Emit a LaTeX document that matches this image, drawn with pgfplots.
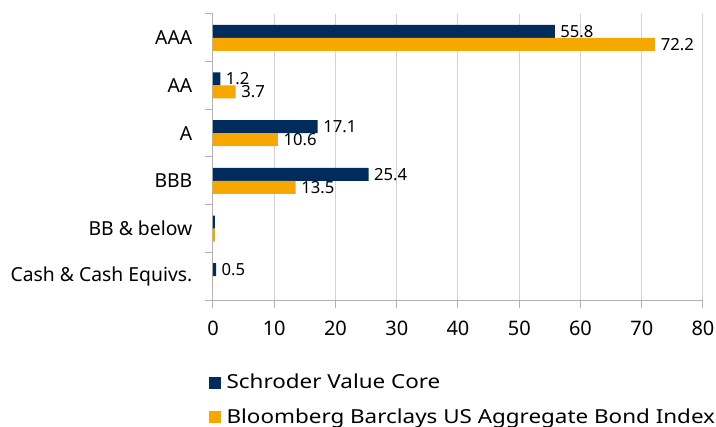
\documentclass[border=0pt]{standalone}
\usepackage{pgfplots}
\pgfplotsset{compat=1.18}
\usepackage{fontspec}
\setmainfont{Noto Sans}
\newfontfamily\legendfont[FakeStretch=1.16]{Noto Sans}
\definecolor{navy}{HTML}{002B5C}
\definecolor{amber}{HTML}{F7A800}
\begin{document}
\begin{tikzpicture}
\useasboundingbox (-159.75pt,-95.25pt) rectangle (377.25pt,225pt);
\begin{axis}[
    at={(0,0)}, anchor=south west,
    scale only axis, width=367.5pt, height=214.5pt,
    xbar=0pt, bar width=9.75pt,
    xmin=0, xmax=80, xtick={0,10,...,80},
    ymin=-0.5, ymax=5.5, y dir=reverse,
    ytick={0,...,5},
    yticklabels={AAA,AA,A,BBB,BB \& below,Cash \& Cash Equivs.},
    minor ytick={-0.5,0.5,...,5.5},
    axis lines*=left,
    axis line style={gray!60, line width=0.75pt},
    tick align=outside, major tick length=6pt, minor tick length=6pt,
    tick style={gray!60, line width=0.75pt},
    every major y tick/.append style={draw=none},
    xmajorgrids, grid style={gray!35, line width=0.75pt},
    /pgf/number format/assume math mode=true,
    xticklabel style={font=\fontsize{15}{18}\selectfont, yshift=-6pt},
    yticklabel style={font=\fontsize{14.5}{17}\selectfont, xshift=-6pt},
    point meta=explicit symbolic,
    nodes near coords,
    every node near coord/.append style={font=\fontsize{12.5}{14}\selectfont, anchor=west, inner sep=2pt, xshift=2pt},
    legend style={at={(0,0)}, anchor=north west, yshift=-51.5pt, xshift=-6pt,
        draw=none, font=\legendfont\fontsize{14.5}{17}\selectfont, row sep=9.25pt},
    legend cell align=left,
]
\addplot[fill=navy, draw=none, bar shift=4.875pt,
    legend image code/.code={\fill[navy] (0pt,-4.5pt) rectangle (9pt,4.5pt); \path (0pt,0pt) -- (11pt,0pt);}]
    coordinates {(55.8,0)[55.8] (1.2,1)[1.2] (17.1,2)[17.1] (25.4,3)[25.4] (0.3,4)[] (0.5,5)[0.5]};
\addplot[fill=amber, draw=none, bar shift=-4.875pt,
    legend image code/.code={\fill[amber] (0pt,-4.5pt) rectangle (9pt,4.5pt); \path (0pt,0pt) -- (11pt,0pt);}]
    coordinates {(72.2,0)[72.2] (3.7,1)[3.7] (10.6,2)[10.6] (13.5,3)[13.5] (0.3,4)[] (0,5)[]};
\legend{Schroder Value Core, Bloomberg Barclays US Aggregate Bond Index}
\end{axis}
\end{tikzpicture}
\end{document}
